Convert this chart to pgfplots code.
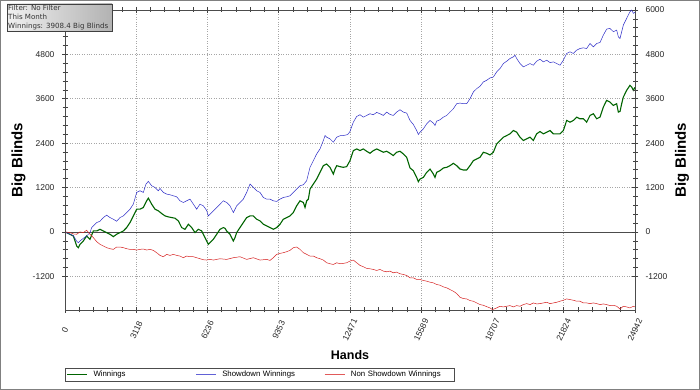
\documentclass[border=0pt]{standalone}
\usepackage{pgfplots}
\pgfplotsset{compat=1.18}
\usepackage{fontspec}
\setmainfont{Liberation Sans}
\newfontfamily\boxfont{DejaVu Sans}
\definecolor{wgreen}{RGB}{0,100,0}
\definecolor{sdblue}{RGB}{45,45,200}
\definecolor{nsdred}{RGB}{215,35,35}
\pgfplotstableread{
x y
0 0
219 -63
365 -109
511 -380
583 -425
656 -335
802 -244
948 -109
1094 -199
1240 27
1386 27
1532 72
1677 27
1823 -18
1969 -63
2115 -127
2261 -63
2407 -18
2553 27
2698 118
2844 253
2990 434
3136 615
3282 615
3428 661
3574 842
3646 914
3792 751
3938 615
4084 570
4230 498
4376 434
4522 407
4668 389
4813 371
4959 299
5105 118
5251 72
5397 208
5543 118
5689 -18
5834 72
5980 27
6053 -63
6126 -154
6199 -244
6272 -335
6345 -290
6491 -199
6637 -63
6782 72
6928 118
7001 100
7074 27
7220 -63
7366 -244
7439 -154
7512 -18
7658 118
7803 253
7949 389
8095 434
8241 434
8387 344
8533 299
8679 208
8825 163
8970 118
9116 72
9262 118
9408 208
9554 344
9700 389
9846 434
9991 525
10137 706
10283 842
10429 796
10502 661
10575 842
10648 887
10721 1158
10867 1294
11013 1430
11158 1611
11304 1792
11450 1837
11596 1747
11742 1566
11815 1701
11888 1792
12033 1765
12179 1747
12325 1765
12471 1928
12617 2199
12763 2244
12909 2199
13054 2244
13200 2181
13346 2127
13492 2199
13638 2244
13784 2199
13930 2154
14075 2181
14221 2127
14367 2063
14513 2154
14659 2181
14805 2109
14951 2018
15097 1729
15242 1656
15388 1475
15461 1358
15534 1430
15680 1475
15826 1611
15972 1701
16118 1566
16190 1475
16263 1611
16409 1656
16555 1729
16701 1747
16847 1792
16993 1855
17139 1792
17284 1701
17430 1674
17576 1674
17722 1792
17868 1928
18014 1973
18160 2018
18305 2154
18451 2127
18597 2082
18743 2154
18889 2380
19035 2471
19181 2561
19327 2606
19472 2652
19618 2742
19764 2697
19910 2561
20056 2471
20202 2516
20348 2561
20493 2471
20639 2652
20785 2715
20931 2652
21077 2697
21223 2742
21369 2652
21514 2652
21660 2652
21806 2742
21952 3014
22098 2968
22244 3014
22390 3104
22535 3059
22681 3059
22827 2968
22973 3149
23119 3195
23265 3059
23411 3104
23556 3376
23702 3557
23848 3511
23994 3421
24140 3466
24213 3240
24286 3258
24359 3466
24432 3647
24577 3828
24723 3964
24796 3919
24869 3828
24942 3908
}\winnings
\pgfplotstableread{
x y
0 0
219 -63
365 -100
511 -250
583 -290
656 -244
802 -172
948 -109
1094 -18
1167 118
1240 163
1386 253
1532 290
1677 389
1823 453
1969 389
2115 344
2261 290
2407 389
2553 434
2698 525
2844 615
2990 751
3136 1068
3282 1113
3428 1068
3544 1294
3646 1367
3792 1249
3938 1204
4084 1113
4157 1177
4303 1068
4449 1023
4595 1005
4741 977
4886 950
5032 842
5178 796
5324 842
5470 887
5616 751
5761 615
5907 751
6053 706
6199 580
6272 434
6345 480
6491 570
6637 661
6782 751
6928 842
7074 796
7220 706
7366 525
7439 615
7512 706
7658 796
7803 887
7949 1068
8095 1294
8241 1204
8387 1113
8533 1068
8679 932
8825 887
8970 887
9116 842
9262 824
9408 887
9554 932
9700 950
9846 977
9991 1068
10137 1158
10283 1249
10429 1276
10575 1385
10721 1747
10867 1928
11013 2109
11158 2244
11304 2471
11377 2606
11450 2561
11596 2516
11742 2425
11888 2561
12033 2600
12179 2606
12325 2625
12398 2652
12471 2720
12617 2968
12763 3122
12909 3168
13054 3104
13200 3149
13346 3195
13492 3168
13638 3231
13784 3195
13930 3149
14075 3240
14221 3177
14367 3149
14513 3240
14659 3303
14805 3240
14951 3213
15097 3014
15242 2905
15388 2742
15461 2634
15534 2697
15680 2787
15826 2923
15972 3014
16118 2941
16190 2878
16263 2996
16409 3032
16555 3104
16701 3149
16847 3240
16993 3330
17139 3466
17284 3484
17430 3466
17576 3466
17722 3602
17868 3783
18014 3873
18160 3940
18305 4054
18451 4100
18597 4163
18743 4190
18889 4326
19035 4416
19181 4552
19327 4616
19472 4688
19618 4733
19691 4778
19764 4688
19910 4552
20056 4462
20202 4507
20348 4552
20493 4507
20639 4616
20785 4670
20931 4597
21077 4643
21223 4579
21369 4597
21514 4552
21660 4507
21806 4643
21952 4824
22098 4869
22244 4824
22390 4914
22535 4959
22681 4977
22827 4959
22973 5095
23119 5005
23265 5095
23411 5122
23556 5321
23702 5484
23848 5502
23994 5412
24140 5457
24213 5276
24286 5231
24359 5412
24432 5593
24577 5774
24723 5955
24796 6000
24869 5910
24942 5937
}\showdown
\pgfplotstableread{
x y
0 0
219 -18
365 -54
511 -63
656 0
802 -18
948 45
1094 -63
1240 -154
1386 -262
1532 -335
1677 -380
1823 -425
1969 -453
2115 -471
2261 -407
2407 -407
2553 -425
2698 -453
2844 -471
2990 -471
3136 -489
3282 -471
3428 -462
3574 -489
3719 -471
3865 -498
4011 -561
4157 -634
4303 -670
4449 -606
4595 -634
4741 -606
4886 -634
5032 -652
5178 -697
5324 -652
5470 -670
5616 -670
5761 -697
5907 -724
6053 -751
6199 -760
6345 -742
6491 -760
6782 -724
7074 -742
7366 -697
7658 -670
7949 -742
8241 -697
8533 -760
8825 -742
8970 -769
9116 -697
9262 -606
9408 -579
9554 -561
9700 -534
9846 -498
9991 -425
10137 -407
10283 -471
10429 -561
10575 -606
10721 -652
10867 -652
11013 -697
11158 -724
11304 -760
11450 -833
11596 -860
11742 -878
11888 -833
12033 -860
12179 -851
12325 -833
12471 -787
12617 -760
12763 -833
12909 -905
13054 -941
13200 -986
13346 -996
13492 -1014
13638 -1041
13784 -1014
13930 -1059
14075 -1077
14221 -1059
14367 -1104
14513 -1086
14659 -1131
14805 -1149
14951 -1176
15097 -1240
15242 -1240
15388 -1285
15534 -1285
15680 -1312
15826 -1330
15972 -1358
16118 -1376
16263 -1421
16409 -1439
16555 -1484
16701 -1511
16847 -1557
16993 -1602
17139 -1665
17284 -1765
17430 -1801
17576 -1810
17722 -1855
17868 -1873
18014 -1919
18160 -1964
18305 -1982
18451 -2020
18597 -2054
18707 -2100
18889 -2054
19035 -2009
19181 -2027
19327 -2009
19472 -1991
19618 -2027
19764 -1991
19910 -2009
20056 -1964
20202 -1937
20348 -1964
20493 -1919
20639 -1946
20785 -1937
20931 -1919
21077 -1901
21223 -1937
21369 -1919
21514 -1901
21660 -1873
21806 -1846
21952 -1810
22098 -1828
22244 -1846
22390 -1873
22535 -1873
22681 -1919
22827 -1919
22973 -1937
23119 -1919
23265 -1937
23411 -1964
23556 -1946
23702 -1964
23848 -1991
23994 -1982
24140 -2009
24286 -2082
24432 -2009
24577 -2027
24723 -2054
24869 -2009
24942 -2027
}\nonshowdown
\begin{document}
\begin{tikzpicture}[x=1pt,y=1pt]
\fill[white] (0,0) rectangle (700,390);
\draw[gray, line width=1pt] (0.5,0.5) rectangle (699.5,389.5);
\pgfplotsset{
  bbaxis/.style={
    at={(65pt,80pt)}, anchor=south west,
    scale only axis, width=570pt, height=300pt,
    xmin=0, xmax=24942, ymin=-2110, ymax=6000,
    scaled ticks=false,
    ytick={-1200,0,1200,2400,3600,4800,6000},
    yticklabels={-1200,0,1200,2400,3600,4800,6000},
    minor y tick num=4,
    tick align=center,
    major tick length=6pt, minor tick length=5pt,
    tick style={black!75, line width=0.6pt},
    axis line style={black!70, line width=0.8pt},
    yticklabel style={font=\fontsize{8.5}{10}\selectfont, text=black!85},
    yticklabel shift=4pt,
    ylabel={Big Blinds},
  }
}
\begin{axis}[bbaxis,
  xtick={0,3117.75,6235.5,9353.25,12471,15588.75,18706.5,21824.25,24942},
  xticklabels={0,3118,6236,9353,12471,15589,18707,21824,24942},
  minor x tick num=4,
  xmajorgrids, ymajorgrids,
  grid style={dotted, gray!70, line width=0.6pt},
  extra y ticks={0}, extra y tick labels={},
  extra y tick style={grid=major, major grid style={solid, black!70, line width=0.7pt}},
  xticklabel style={rotate=65, anchor=center, font=\fontsize{8.5}{10}\selectfont, text=black!85},
  xticklabel shift=17pt,
  ylabel style={at={(axis description cs:-0.0816,0.5)}, anchor=center, font=\fontsize{15}{17}\selectfont\bfseries},
  xlabel={Hands},
  xlabel style={at={(axis description cs:0.5,-0.15)}, anchor=center, font=\fontsize{12.5}{15}\selectfont\bfseries},
  legend columns=3,
  legend cell align=left,
  legend style={at={(0,-0.193)}, anchor=north west, draw=black!70, line width=0.8pt,
    font=\fontsize{7.8}{9}\selectfont, inner xsep=1pt, inner ysep=1pt,
    /tikz/every even column/.append style={text width=100pt}},
]
\addplot[draw=wgreen, line width=1.1pt,
  legend image code/.code={\draw[draw=wgreen, line width=1.2pt] (0pt,0pt) -- (20pt,0pt); \path (24pt,0pt);}]
  table[x=x,y=y] {\winnings};
\addlegendentry{Winnings}
\addplot[draw=sdblue, line width=0.5pt,
  legend image code/.code={\draw[draw=sdblue!75, line width=0.9pt] (0pt,0pt) -- (20pt,0pt); \path (24pt,0pt);}]
  table[x=x,y=y] {\showdown};
\addlegendentry{Showdown Winnings}
\addplot[draw=nsdred, line width=0.5pt,
  legend image code/.code={\draw[draw=nsdred!75, line width=0.9pt] (0pt,0pt) -- (20pt,0pt); \path (24pt,0pt);}]
  table[x=x,y=y] {\nonshowdown};
\addlegendentry{Non Showdown Winnings}
\end{axis}
\begin{axis}[bbaxis,
  axis x line=none, axis y line*=right,
  ylabel style={at={(axis description cs:1.0825,0.5)}, anchor=center, font=\fontsize{15}{17}\selectfont\bfseries},
]
\addplot[draw=none] coordinates {(0,0)};
\end{axis}
\shade[left color=gray!12, right color=gray!60, draw=gray!50!black, line width=0.6pt] (7,359) rectangle (112,386);
\node[anchor=north west, font=\boxfont\fontsize{7.1}{9}\selectfont, align=left, inner sep=0pt, text=black!80] at (8,385.5) {Filter: No Filter\\This Month\\Winnings: 3908.4 Big Blinds};
\end{tikzpicture}
\end{document}
